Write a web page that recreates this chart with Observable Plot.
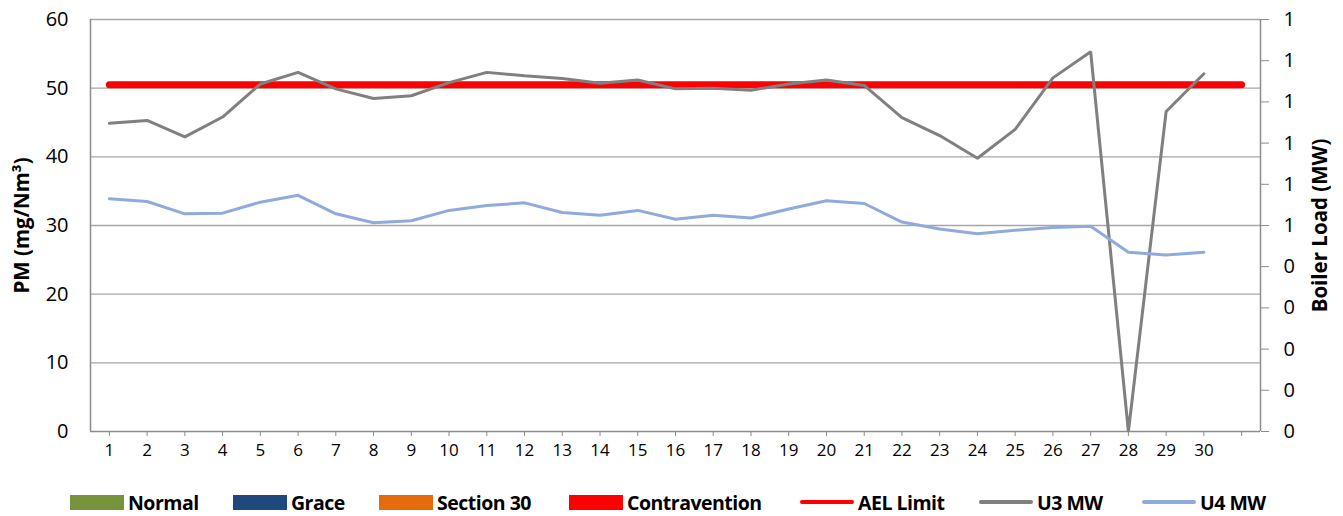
<!DOCTYPE html>
<html>
<head>
<meta charset="utf-8">
<script src="https://cdn.jsdelivr.net/npm/d3@7"></script>
<script src="https://cdn.jsdelivr.net/npm/@observablehq/plot@0.6"></script>
<style>
  html, body { margin: 0; padding: 0; background: #fff; }
  #wrap { position: relative; width: 1343px; height: 516px; font-family: "Open Sans", "Noto Sans", sans-serif; }
  #chart { position: absolute; left: 0; top: 0; }
  .leg { position: absolute; top: 490px; height: 24px; display: flex; align-items: center; font-weight: bold; font-size: 19.5px; color: #000; white-space: nowrap; letter-spacing: -0.5px; }
  .sw { width: 54px; height: 15px; margin-right: 4px; }
  .ln { width: 54px; height: 4px; border-radius: 2px; margin-right: 4px; }
</style>
</head>
<body>
<div id="wrap">
  <div id="chart"></div>
  <div id="legend"></div>
</div>
<script>
// Categories (days); the 31st slot is an empty category
const days = [1,2,3,4,5,6,7,8,9,10,11,12,13,14,15,16,17,18,19,20,21,22,23,24,25,26,27,28,29,30];
const xCategories = [1,2,3,4,5,6,7,8,9,10,11,12,13,14,15,16,17,18,19,20,21,22,23,24,25,26,27,28,29,30,31];
const xTickLabels = ["1","2","3","4","5","6","7","8","9","10","11","12","13","14","15","16","17","18","19","20","21","22","23","24","25","26","27","28","29","30",""];

// Series values (in left-axis units)
const u3 = [44.9,45.3,42.9,45.8,50.6,52.3,49.9,48.5,48.9,50.8,52.3,51.8,51.4,50.7,51.2,49.9,50.0,49.7,50.6,51.2,50.4,45.7,43.1,39.8,44.0,51.5,55.3,0,46.6,52.1];
const u4 = [33.9,33.5,31.7,31.8,33.4,34.4,31.7,30.4,30.7,32.2,32.9,33.3,31.9,31.5,32.2,30.9,31.5,31.1,32.4,33.6,33.2,30.5,29.5,28.8,29.3,29.7,29.9,26.1,25.7,26.1];
const aelDays = [1,31];
const aelValue = [50.5,50.5];

// Axis ticks
const leftTicks = [0,10,20,30,40,50,60];
const rightTickValues = [0,6,12,18,24,30,36,42,48,54,60];
const rightTickLabels = ["0","0","0","0","0","1","1","1","1","1","1"];

const leftTitle = "PM (mg/Nm³)";
const rightTitle = "Boiler Load (MW)";

const legendItems = [
  {label: "Normal", type: "box", color: "#77933C", x: 70},
  {label: "Grace", type: "box", color: "#1F497D", x: 233},
  {label: "Section 30", type: "box", color: "#E46C0A", x: 379},
  {label: "Contravention", type: "box", color: "#FF0000", x: 569},
  {label: "AEL Limit", type: "line", color: "#FF0000", x: 800},
  {label: "U3 MW", type: "line", color: "#808080", x: 979},
  {label: "U4 MW", type: "line", color: "#8FAADC", x: 1142}
];

const u3Data = days.map((d, i) => ({day: d, v: u3[i]}));
const u4Data = days.map((d, i) => ({day: d, v: u4[i]}));
const aelData = aelDays.map((d, i) => ({day: d, v: aelValue[i]}));
const gridColor = "#A6A6A6";
const axisColor = "#8C8C8C";

const chart = Plot.plot({
  width: 1343,
  height: 470,
  marginLeft: 90,
  marginRight: 83,
  marginTop: 19,
  marginBottom: 39,
  style: {fontFamily: "'Open Sans', 'Noto Sans', sans-serif", background: "#fff", color: "#000"},
  x: {domain: [0.5, 31.5], axis: null},
  y: {domain: [0, 60], axis: null},
  marks: [
    Plot.gridY(leftTicks.filter(t => t > 0), {stroke: gridColor, strokeOpacity: 1, strokeWidth: 1.3}),
    Plot.ruleX([0.5], {stroke: axisColor, strokeWidth: 1.5}),
    Plot.ruleX([31.5], {stroke: axisColor, strokeWidth: 1.5}),
    Plot.ruleY([0], {stroke: axisColor, strokeWidth: 1.5}),
    Plot.axisY({anchor: "left", ticks: leftTicks, tickSize: 0, tickPadding: 22, fontSize: 20, label: null}),
    Plot.axisY({anchor: "right", ticks: rightTickValues, tickFormat: (d, i) => rightTickLabels[i], tickSize: 8, tickPadding: 15, stroke: axisColor, fontSize: 20, label: null, textAnchor: "start"}),
    Plot.axisX({anchor: "bottom", ticks: xCategories, tickFormat: (d, i) => xTickLabels[i], tickSize: 5, tickPadding: 7, stroke: axisColor, fontSize: 17, label: null}),
    Plot.text([leftTitle], {text: d => d, frameAnchor: "left", textAnchor: "middle", dx: -68, rotate: -90, fontSize: 20.5, fontWeight: "bold"}),
    Plot.text([rightTitle], {text: d => d, frameAnchor: "right", textAnchor: "middle", dx: 60, rotate: -90, fontSize: 20.5, fontWeight: "bold"}),
    Plot.line(aelData, {x: "day", y: "v", stroke: "#FF0000", strokeWidth: 7, strokeLinecap: "round"}),
    Plot.line(u3Data, {x: "day", y: "v", stroke: "#808080", strokeWidth: 3, strokeLinejoin: "miter", strokeLinecap: "round"}),
    Plot.line(u4Data, {x: "day", y: "v", stroke: "#8FAADC", strokeWidth: 3, strokeLinecap: "round"})
  ]
});
document.getElementById("chart").appendChild(chart);

const legend = document.getElementById("legend");
for (const item of legendItems) {
  const el = document.createElement("div");
  el.className = "leg";
  el.style.left = item.x + "px";
  const sw = document.createElement("div");
  sw.className = item.type === "box" ? "sw" : "ln";
  sw.style.background = item.color;
  el.appendChild(sw);
  const t = document.createElement("span");
  t.textContent = item.label;
  el.appendChild(t);
  legend.appendChild(el);
}
</script>
</body>
</html>
